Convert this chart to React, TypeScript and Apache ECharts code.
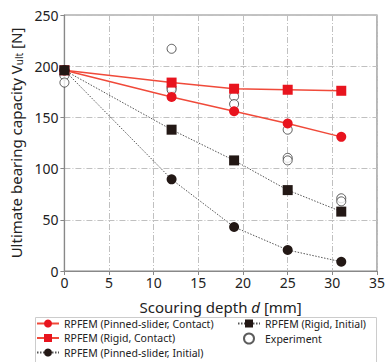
import React, { useEffect, useRef } from "react";
import * as echarts from "echarts";

const depths = [0, 12, 19, 25, 31];
const pinnedContact = [196, 170, 156, 144, 131];
const rigidContact = [196, 184, 178, 177, 176];
const pinnedInitial = [196, 89.5, 43, 20.5, 9];
const rigidInitial = [196, 138, 108, 79, 58];
const expDepths = [0, 0, 12, 12, 12, 19, 19, 25, 25, 25, 31, 31];
const expValues = [191, 184, 217, 179, 177, 170.5, 163, 138, 110.5, 108, 71, 68];
const xTicks = [0, 5, 10, 15, 20, 25, 30, 35];
const yTicks = [0, 50, 100, 150, 200, 250];

const FONT = "Noto Sans";
const RED = "#e8141e";
const RED_LINE = "#f04a3a";
const DARK = "#231815";

const pair = (xs: number[], ys: number[]) => xs.map((x, i) => [x, ys[i]]);

export default function App() {
  const ref = useRef<HTMLDivElement>(null);
  useEffect(() => {
    document.body.style.margin = "0";
    const chart = echarts.init(ref.current!, null, { renderer: "svg" });
    const gridLine = { show: true, lineStyle: { color: "#c0c0c0", type: [6, 2, 1, 2], width: 1 } };
    const legendBase = {
      top: 318, orient: "vertical", itemGap: 3.5, itemWidth: 22, itemHeight: 10, padding: 0,
      textStyle: { fontSize: 10.5, color: "#222", fontFamily: FONT },
    };
    chart.setOption({
      animation: false,
      textStyle: { fontFamily: FONT },
      grid: { left: 61, right: 8, top: 15, bottom: 91, show: true, borderColor: "#888", borderWidth: 1.2, backgroundColor: "transparent" },
      xAxis: {
        type: "value", min: xTicks[0], max: xTicks[xTicks.length - 1], interval: 5,
        axisLine: { lineStyle: { color: "#888", width: 1.2 } },
        axisTick: { show: true, inside: false, length: 4, lineStyle: { color: "#888" } },
        axisLabel: { color: "#222", fontSize: 14, margin: 4, fontFamily: FONT },
        splitLine: gridLine,
        name: "Scouring depth {i|d} [mm]",
        nameLocation: "middle", nameGap: 28,
        nameTextStyle: { color: "#222", fontSize: 15, fontFamily: FONT, rich: { i: { fontStyle: "italic", fontSize: 15, fontFamily: FONT, color: "#222" } } },
      },
      yAxis: {
        type: "value", min: yTicks[0], max: yTicks[yTicks.length - 1], interval: 50,
        axisLine: { show: true, lineStyle: { color: "#888", width: 1.2 } },
        axisTick: { show: true, inside: false, length: 4, lineStyle: { color: "#888" } },
        axisLabel: { color: "#222", fontSize: 14, margin: 6, fontFamily: FONT },
        splitLine: gridLine,
        name: "Ultimate bearing capacity V{s|ult} [N]",
        nameLocation: "middle", nameGap: 28,
        nameTextStyle: { color: "#222", fontSize: 15, fontFamily: FONT, rich: { s: { fontSize: 10, fontFamily: FONT, color: "#222", verticalAlign: "bottom", padding: [6, 0, 0, 0] } } },
      },
      legend: [
        {
          ...legendBase, left: 36,
          data: ["RPFEM (Pinned-slider, Contact)", "RPFEM (Rigid, Contact)", "RPFEM (Pinned-slider, Initial)"],
        },
        {
          ...legendBase, left: 237,
          data: ["RPFEM (Rigid, Initial)", "Experiment"],
        },
      ],
      graphic: [
        { type: "rect", left: 33, top: 315, shape: { width: 341, height: 45 }, style: { fill: "none", stroke: "#ccc", lineWidth: 1 } },
      ],
      series: [
        {
          name: "RPFEM (Pinned-slider, Contact)", type: "line", data: pair(depths, pinnedContact),
          symbol: "circle", symbolSize: 10, itemStyle: { color: RED }, lineStyle: { color: RED_LINE, width: 1.5 },
        },
        {
          name: "RPFEM (Rigid, Contact)", type: "line", data: pair(depths, rigidContact),
          symbol: "rect", symbolSize: 10, itemStyle: { color: RED }, lineStyle: { color: RED_LINE, width: 1.5 },
        },
        {
          name: "RPFEM (Pinned-slider, Initial)", type: "line", data: pair(depths, pinnedInitial),
          symbol: "circle", symbolSize: 10, itemStyle: { color: DARK }, lineStyle: { color: "#555", width: 1, type: [1.5, 1.5] },
        },
        {
          name: "RPFEM (Rigid, Initial)", type: "line", data: pair(depths, rigidInitial),
          symbol: "rect", symbolSize: 10, itemStyle: { color: DARK }, lineStyle: { color: "#555", width: 1, type: [1.5, 1.5] },
        },
        {
          name: "Experiment", type: "scatter", data: pair(expDepths, expValues),
          symbol: "circle", symbolSize: 9, itemStyle: { color: "#fff", borderColor: "#333", borderWidth: 1 },
        },
      ],
    });
    return () => chart.dispose();
  }, []);
  return <div ref={ref} style={{ position: "absolute", left: 0, top: 0, width: 388, height: 362 }} />;
}
